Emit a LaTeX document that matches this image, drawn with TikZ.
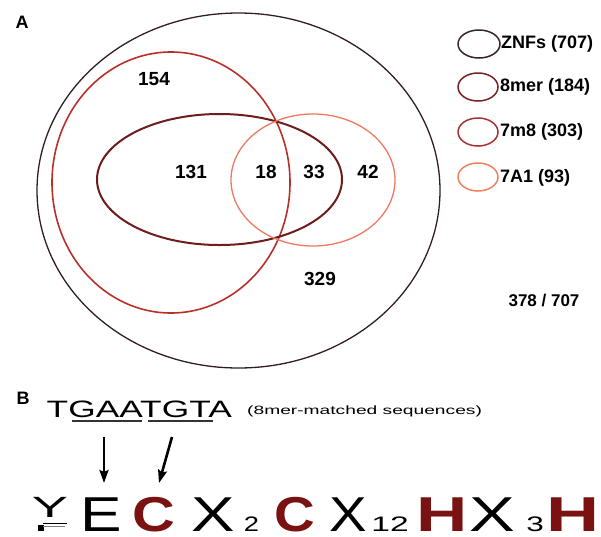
\documentclass[tikz,border=0pt]{standalone}
\usepackage{fontspec}
\usepackage{graphicx}
\setmainfont{Liberation Sans}
\usetikzlibrary{arrows.meta}
\definecolor{cOuter}{RGB}{50,30,30}
\definecolor{cEight}{RGB}{110,28,28}
\definecolor{cSeven}{RGB}{185,48,42}
\definecolor{cOne}{RGB}{240,120,96}
\definecolor{lOuter}{RGB}{58,37,37}
\definecolor{lEight}{RGB}{122,34,34}
\definecolor{lSeven}{RGB}{168,50,50}
\definecolor{lOne}{RGB}{240,128,96}
\definecolor{cLetter}{RGB}{122,18,18}
\newcommand{\gl}[3]{\scalebox{#1}[1]{\fontsize{#2}{#2}\selectfont #3}}
\tikzset{
  num/.style={inner sep=0, font=\fontsize{19}{19}\selectfont\bfseries},
  legtext/.style={inner sep=0, anchor=west, font=\fontsize{18}{18}\selectfont\bfseries},
  panel/.style={inner sep=0, font=\fontsize{18}{18}\selectfont\bfseries},
  glyph/.style={inner sep=0, anchor=base},
  pointer/.style={line width=2.6pt, -{Stealth[length=13pt,width=9pt,inset=2pt]}},
  uline/.style={line width=1.3pt, black!80}
}
\begin{document}
\begin{tikzpicture}[x=1pt,y=-1pt]
\useasboundingbox (0,0) rectangle (601,536);
% Venn
\draw[cOuter, line width=1.3pt] (238.5,190.5) ellipse [x radius=201.5, y radius=177.5];
\draw[cSeven, line width=1.6pt] (171,182.5) ellipse [x radius=119, y radius=130.5];
\draw[cEight, line width=2pt] (219.5,179.5) ellipse [x radius=122.5, y radius=65.5];
\draw[cOne, line width=1.3pt] (313,180) ellipse [x radius=82, y radius=66];
\node[panel] (A) at (22,22) {A};
\node[num] (n154) at (154,79) {154};
\node[num] (n131) at (191,172) {131};
\node[num] (n18) at (266,172) {18};
\node[num] (n33) at (314,172) {33};
\node[num] (n42) at (368,172) {42};
\node[num] (n329) at (320,279) {329};
\node[inner sep=0, font=\fontsize{17}{17}\selectfont\bfseries] (ratio) at (544,301) {378 / 707};
% Legend
\draw[lOuter, line width=1.5pt] (479,44) ellipse [x radius=21, y radius=14];
\draw[lEight, line width=1.5pt] (478,87) ellipse [x radius=20, y radius=14];
\draw[lSeven, line width=1.5pt] (478,132) ellipse [x radius=20, y radius=14];
\draw[lOne, line width=1.5pt] (478,177) ellipse [x radius=20, y radius=14];
\node[legtext] (l1) at (501,44) {ZNFs (707)};
\node[legtext] (l2) at (500,87) {8mer (184)};
\node[legtext] (l3) at (500,132) {7m8 (303)};
\node[legtext] (l4) at (500,178) {7A1 (93)};
% Panel B
\node[panel] (B) at (23,398) {B};
\node[inner sep=0, anchor=base west] (seq) at (46.5,417) {\gl{1.49}{23.7}{TGAATGTA}};
\node[inner sep=0, anchor=base west] (seqlab) at (247,414) {\gl{1.6}{12}{(8mer-matched sequences)}};
\coordinate (u1a) at (72,421); \coordinate (u1b) at (142,421);
\coordinate (u2a) at (148,421); \coordinate (u2b) at (213,421);
\draw[uline] (u1a) -- (u1b);
\draw[uline] (u2a) -- (u2b);
\coordinate (a1s) at (104,437); \coordinate (a1e) at (104,483);
\coordinate (a2s) at (172,437); \coordinate (a2e) at (159,483);
\draw[pointer] (a1s) -- (a1e);
\draw[pointer] (a2s) -- (a2e);
% motif
\node[glyph] (gY) at (50,517.5) {\gl{1.85}{29.3}{Y}};
\fill[black] (38.3,524.5) rectangle (43.5,531);
\draw[black, line width=1pt] (43,523) -- (67,523);
\draw[gray, line width=1pt] (43,526.5) -- (65,526.5);
\node[glyph] (gE) at (101.5,531.5) {\gl{1.27}{49}{E}};
\node[glyph, text=cLetter] (gC1) at (154,531.5) {\gl{1.21}{49}{\bfseries C}};
\node[glyph] (gX1) at (213.5,531.5) {\gl{1.33}{49}{X}};
\node[glyph] (g2) at (251.5,531.5) {\gl{1.3}{21}{2}};
\node[glyph, text=cLetter] (gC2) at (295,531.5) {\gl{1.15}{49}{\bfseries C}};
\node[glyph] (gX2) at (348.5,531.5) {\gl{1.15}{49}{X}};
\node[glyph] (g12) at (390,531.5) {\gl{1.6}{21}{12}};
\node[glyph, text=cLetter] (gH1) at (442.5,531.5) {\gl{1.45}{49}{\bfseries H}};
\node[glyph] (gX3) at (492.5,531.5) {\gl{1.4}{49}{X}};
\node[glyph] (g3) at (535,531.5) {\gl{1.5}{21}{3}};
\node[glyph, text=cLetter] (gH2) at (573.5,531.5) {\gl{1.5}{49}{\bfseries H}};
\end{tikzpicture}
\end{document}
